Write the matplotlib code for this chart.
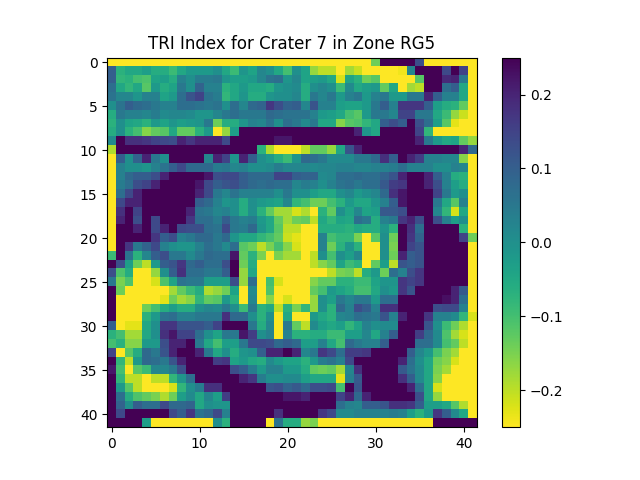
import matplotlib
matplotlib.use("Agg")
import matplotlib.pyplot as plt
import numpy as np

title = "TRI Index for Crater 7 in Zone RG5"

# values in hundredths, columns 0-21
left = [
[-25]*22,
[10,-7,-5,-5,-3,-6,-6,-9,-5,-2,-2,-2,0,-5,-9,-1,-4,2,0,-5,-10,0],
[10,-8,-7,-10,-11,-4,-3,-6,3,0,4,4,5,-1,-3,-3,-2,2,6,7,-1,2],
[7,-5,-8,-5,-12,-2,-6,-4,5,0,9,3,3,-7,-5,-2,-5,-5,-6,-1,0,1],
[6,2,2,-1,3,3,-4,-2,7,12,15,6,4,-8,-5,-1,-6,-6,-1,0,0,2],
[0,6,10,8,7,5,3,3,7,7,6,5,6,0,7,2,8,9,17,13,9,10],
[-6,5,3,3,2,4,1,2,2,1,-1,-1,2,5,7,5,5,5,8,7,6,6],
[-7,0,-4,-5,-7,-2,-4,-1,-3,-2,-1,5,-14,-6,-6,-1,3,2,6,0,7,5],
[-6,0,-7,-10,-16,-13,-12,-5,-13,-13,-7,-2,-25,-17,-3,25,25,25,25,25,25,25],
[1,25,18,18,17,15,14,13,20,17,20,20,20,14,25,25,25,25,25,22,22,25],
[-19,25,25,25,25,25,25,25,25,25,25,25,25,25,25,25,25,-7,-19,-25,-25,-25],
[-25,10,0,9,20,5,0,25,25,25,25,2,20,15,-1,20,10,0,-2,-6,-9,-1],
[-25,3,0,0,-1,3,6,10,14,8,8,8,4,5,2,3,0,0,1,4,2,2],
[-25,3,8,10,10,13,20,25,25,25,25,22,13,14,14,10,8,8,8,15,15,10],
[-25,4,7,13,15,20,25,25,25,25,22,14,10,12,13,10,8,7,8,7,7,2],
[-25,7,14,20,25,25,25,25,25,25,20,14,5,2,6,3,3,3,3,0,5,0],
[-25,14,20,20,25,25,25,25,25,25,10,8,3,-1,0,-6,0,-2,-3,-4,2,-8],
[-25,18,25,15,25,25,25,25,25,20,6,5,2,3,0,-6,0,-7,-13,-18,-18,-22],
[-25,20,25,13,25,14,25,25,25,17,7,7,4,10,5,3,4,-2,-5,-13,-18,-14],
[-25,25,25,20,25,14,20,25,14,13,13,7,6,14,5,4,8,-1,-5,-12,-20,-20],
[-25,25,25,25,25,17,10,13,3,5,8,8,5,8,-1,-5,-5,-8,-10,-13,-21,-23],
[-25,25,17,5,9,14,3,0,-1,-1,3,7,5,1,7,-12,-14,-20,-15,-10,-16,-22],
[-9,25,6,-7,2,10,13,5,5,1,5,8,7,7,22,-13,-7,-15,-25,-15,-18,-18],
[25,13,-3,-14,-20,-2,10,12,17,8,10,7,7,13,25,-14,-6,-25,-25,-25,-25,-25],
[13,-11,-6,-25,-25,-17,0,10,18,7,7,5,5,10,25,-17,-5,-25,-25,-25,-25,-25],
[5,-15,-11,-25,-25,-22,-11,-4,6,5,5,-3,-3,-3,13,-17,7,-25,-10,-22,-25,-25],
[25,-14,-25,-25,-25,-25,-25,-18,-13,-9,-6,-19,-17,-14,-4,-25,1,-25,-11,-25,-25,-25],
[25,-25,-25,-25,-25,-25,-23,-14,-18,-16,-8,-13,-12,-2,-7,-25,2,-25,-16,-25,-22,-25],
[25,-25,-25,-25,-14,-10,-6,-3,-6,-6,0,2,1,5,0,-9,5,-7,-5,-20,-7,-15],
[25,-25,-25,-25,-7,-2,6,7,3,3,5,5,5,18,8,8,0,-7,0,-25,-5,-25],
[10,-25,-23,-23,-5,0,17,17,12,12,12,10,15,25,25,25,5,-6,2,-25,5,-13],
[-7,-10,-18,-18,-5,0,18,22,15,15,7,0,-4,5,5,22,16,0,3,-25,3,-7],
[-10,-7,-16,-16,-2,-2,13,20,20,25,5,-5,-10,-3,-3,5,14,14,13,8,10,8],
[15,-25,-12,-6,8,5,12,20,25,25,20,5,-5,0,-6,-1,0,10,20,20,25,20],
[25,-8,-20,-2,8,7,5,12,20,25,25,25,16,17,-4,-2,-5,-6,1,-2,-4,-4],
[22,-10,-25,-12,-9,2,2,5,13,25,25,25,25,25,13,10,4,-2,3,3,-2,-2],
[25,-8,-20,-20,-25,-20,-20,-8,-1,7,25,25,25,25,25,20,17,4,0,0,1,1],
[25,-2,-12,-20,-25,-25,-25,-22,-8,0,4,18,18,25,25,25,25,25,12,13,9,11],
[25,7,-6,-11,-13,-15,-19,-14,-3,1,-5,2,-3,16,25,25,25,25,25,25,22,22],
[25,9,0,10,7,7,14,8,8,9,-5,0,-1,-1,25,25,25,25,25,25,25,25],
[25,14,25,25,25,25,25,14,10,17,6,8,14,3,25,25,25,25,25,18,25,25],
[25,25,25,25,-3,-25,-25,-25,-25,-25,-25,-25,0,-7,25,25,25,25,-25,6,-6,-6],
]

# values in hundredths, columns 22-41
right = [
[-25,-25,-25,-25,-25,-25,-25,-25,-14,25,25,25,25,13,-25,-25,-25,-25,-25,-25],
[-4,-17,-20,-20,-25,-18,-21,-25,-25,-25,-25,-24,2,25,25,25,14,25,15,-25],
[-4,-3,-2,-5,-22,-4,-7,-14,-12,-25,-25,-25,-25,-12,25,25,19,20,5,-25],
[-6,0,2,0,-9,1,-5,-3,-2,-13,-5,-25,-18,-20,25,25,7,10,-5,-25],
[-6,5,2,5,-2,3,5,-2,3,5,-2,-2,5,5,20,10,3,3,-5,-25],
[2,12,3,3,-3,-4,-4,-2,5,10,3,17,17,17,10,-3,-6,-7,-13,-25],
[6,3,-2,-3,-5,-10,-12,-2,5,5,2,15,15,5,5,-5,-9,-17,-21,-25],
[1,5,-5,-5,-16,-12,-11,-8,-5,10,13,10,25,13,7,-3,-12,-23,-25,-25],
[25,25,25,25,25,25,20,-1,-5,25,25,25,25,15,-8,-25,-25,-25,-25,-25],
[25,25,25,25,25,25,25,25,25,25,25,25,25,20,5,-2,-5,-4,-13,-17],
[-20,-13,-13,-17,-5,12,20,25,25,25,25,25,25,25,25,25,25,25,20,8],
[8,7,5,1,1,1,5,5,8,18,10,25,20,16,3,3,2,2,-16,-25],
[2,1,2,2,3,3,2,2,3,3,4,7,3,3,3,0,0,3,2,-25],
[9,9,1,2,7,7,8,7,7,9,12,20,25,25,20,10,3,-6,-7,-25],
[4,3,0,3,6,7,5,7,7,11,16,17,25,25,20,13,3,-3,-6,-25],
[0,-3,-5,-5,0,2,-2,0,2,8,18,22,25,25,25,15,5,-2,0,-25],
[-10,-14,-14,-10,-7,-2,-5,-5,-1,3,10,22,25,25,25,5,-5,-12,3,-25],
[-19,-25,-7,-13,0,-4,2,-4,-3,11,11,13,25,25,25,2,-8,-22,-5,-25],
[-13,-20,-5,-8,-4,-5,7,5,-6,3,5,17,20,13,25,13,3,-3,0,-25],
[-25,-25,-6,-6,-6,-7,-5,-6,-6,-1,-7,25,18,7,25,25,25,25,-7,-25],
[-25,-25,3,-10,-8,-8,-15,-25,-12,0,-14,25,17,9,25,25,25,25,15,-14],
[-25,-25,3,-14,-7,-1,-7,-25,-25,0,-15,25,15,12,25,25,25,25,25,-25],
[-25,-20,0,-10,0,-3,2,-25,-25,0,-14,20,10,12,25,25,25,25,25,-25],
[-25,-20,-16,-13,-4,-9,-7,-25,-13,-3,-20,12,10,12,25,25,25,25,25,-25],
[-25,-25,-25,-20,-15,-14,-20,-6,-2,-14,7,3,13,17,25,25,25,25,25,-25],
[-25,-16,-13,-13,-7,-7,-9,-9,-4,-1,-1,17,15,17,25,25,25,25,25,-25],
[-25,-13,-10,-2,-4,-6,-10,-10,-5,0,-2,17,12,25,25,25,25,20,11,-25],
[-25,-17,0,-3,5,2,5,5,-2,7,7,25,25,25,25,25,23,20,7,-25],
[-8,-17,0,-7,8,3,13,10,3,18,18,25,25,25,25,13,14,14,3,-25],
[-25,-2,-5,-7,2,3,7,6,5,12,3,20,25,25,17,3,3,1,-8,-22],
[-20,1,-3,-5,-3,-8,-4,3,0,1,1,25,25,25,12,0,-9,-14,-19,-25],
[-7,-6,-6,-9,-9,-3,-3,2,-5,3,10,25,25,16,8,1,-11,-18,-22,-25],
[-3,-3,3,-5,-10,8,5,3,3,10,25,25,25,7,7,1,-10,-13,-20,-25],
[2,5,17,14,7,16,16,17,25,25,25,25,10,2,-2,-10,-15,-18,-25,-25],
[-7,-2,4,6,3,14,25,25,25,25,25,20,7,0,-5,-14,-16,-22,-25,-25],
[-6,-13,-14,-13,-18,2,18,25,25,25,25,11,6,1,-5,-15,-18,-25,-25,-25],
[-3,-5,-5,-5,-23,3,11,25,25,25,25,18,10,1,-5,-16,-25,-25,-25,-25],
[8,13,13,14,-10,25,12,25,25,25,25,25,20,7,-5,-22,-25,-25,-25,-25],
[20,25,25,25,15,20,8,20,25,25,25,25,25,13,-5,-17,-25,-25,-25,-25],
[25,25,25,25,7,3,2,10,10,12,18,18,17,10,-3,-3,-5,-12,-19,-25],
[25,25,17,14,1,1,3,3,3,3,4,3,-3,-7,-2,17,10,1,-5,-25],
[-17,-15,-25,-25,-25,-25,-25,-25,-25,-25,-25,-25,-25,-25,-25,25,25,25,25,25],
]

data = np.array([l + r for l, r in zip(left, right)]) / 100.0

fig, ax = plt.subplots(figsize=(6.4, 4.8), dpi=100)
im = ax.imshow(data, cmap="viridis_r", vmin=-0.25, vmax=0.25)
ax.set_title(title)
fig.colorbar(im)
fig.savefig("out.png", dpi=100)
